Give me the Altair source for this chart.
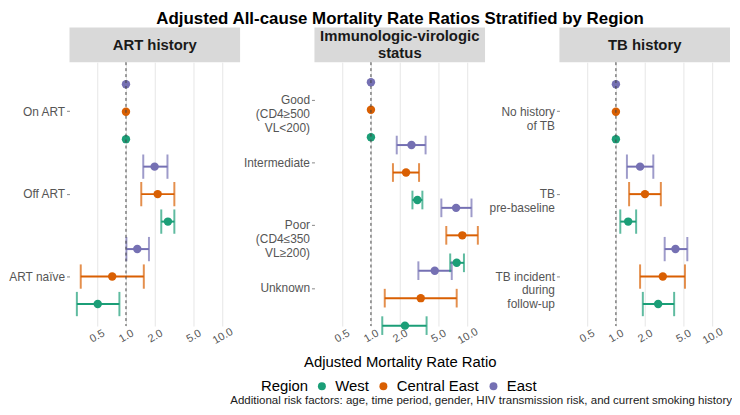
import altair as alt
import pandas as pd

# ---------------- data ----------------
regions = ["West", "Central East", "East"]
region_colors = ["#1b9e77", "#d95f02", "#7570b3"]
dodge_order = ["East", "Central East", "West"]

panel_headers = ["ART history", "Immunologic-virologic|status", "TB history"]

art_categories = ["On ART", "Off ART", "ART naïve"]
art_west_est = [1.0, 2.72, 0.51]
art_west_lo = [None, 2.32, 0.31]
art_west_hi = [None, 3.17, 0.855]
art_ce_est = [1.0, 2.13, 0.72]
art_ce_lo = [None, 1.44, 0.34]
art_ce_hi = [None, 3.17, 1.53]
art_east_est = [1.0, 1.98, 1.31]
art_east_lo = [None, 1.51, 1.01]
art_east_hi = [None, 2.69, 1.73]

imm_categories = ["Good|(CD4≥500|VL<200)", "Intermediate", "Poor|(CD4≤350|VL≥200)", "Unknown"]
imm_west_est = [1.0, 3.03, 7.73, 2.25]
imm_west_lo = [None, 2.69, 6.62, 1.31]
imm_west_hi = [None, 3.41, 9.19, 3.77]
imm_ce_est = [1.0, 2.31, 8.84, 3.28]
imm_ce_lo = [None, 1.69, 6.03, 1.39]
imm_ce_hi = [None, 3.15, 12.8, 7.73]
imm_east_est = [1.0, 2.63, 7.62, 4.58]
imm_east_lo = [None, 1.85, 5.36, 3.10]
imm_east_hi = [None, 3.68, 11.0, 6.87]

tb_categories = ["No history|of TB", "TB|pre-baseline", "TB incident|during|follow-up"]
tb_west_est = [1.0, 1.34, 2.74]
tb_west_lo = [None, 1.11, 1.90]
tb_west_hi = [None, 1.62, 4.01]
tb_ce_est = [1.0, 2.0, 3.06]
tb_ce_lo = [None, 1.37, 1.78]
tb_ce_hi = [None, 2.92, 5.19]
tb_east_est = [1.0, 1.78, 4.14]
tb_east_lo = [None, 1.30, 3.20]
tb_east_hi = [None, 2.44, 5.49]

x_tick_values = [0.5, 1, 2, 5, 10]
reference_value = [1.0]

title_text = "Adjusted All-cause Mortality Rate Ratios Stratified by Region"
x_title_text = "Adjusted Mortality Rate Ratio"
caption_text = ("Additional risk factors: age, time period, gender, HIV transmission risk, "
                "and current smoking history")


def build_df(categories, series):
    rows = []
    for region, (est, lo, hi) in zip(regions, series):
        for cat, e, l, h in zip(categories, est, lo, hi):
            rows.append({"category": cat, "region": region, "est": e, "lo": l, "hi": h})
    return pd.DataFrame(rows)


art_df = build_df(art_categories, [(art_west_est, art_west_lo, art_west_hi),
                                   (art_ce_est, art_ce_lo, art_ce_hi),
                                   (art_east_est, art_east_lo, art_east_hi)])
imm_df = build_df(imm_categories, [(imm_west_est, imm_west_lo, imm_west_hi),
                                   (imm_ce_est, imm_ce_lo, imm_ce_hi),
                                   (imm_east_est, imm_east_lo, imm_east_hi)])
tb_df = build_df(tb_categories, [(tb_west_est, tb_west_lo, tb_west_hi),
                                 (tb_ce_est, tb_ce_lo, tb_ce_hi),
                                 (tb_east_est, tb_east_lo, tb_east_hi)])

# ---------------- styling ----------------
FONT = "Liberation Sans"
W = 172
H = 266
STRIP = 35
STRIP_LINE = 17

x_scale = alt.Scale(type="log", domain=[0.26, 15.2], nice=False)

color_enc = alt.Color(
    "region:N",
    scale=alt.Scale(domain=regions, range=region_colors),
    legend=alt.Legend(
        title="Region", orient="none", legendX=193, legendY=319,
        direction="horizontal", titleOrient="left", titleBaseline="middle",
        titleFontSize=15, titleFontWeight="normal", titleColor="#000000",
        titlePadding=6, labelFontSize=15, labelColor="#000000",
        labelOffset=6, columnPadding=7, symbolType="circle", symbolSize=64,
        symbolStrokeWidth=0, symbolOpacity=1, padding=0,
    ),
)


def x_enc(field, title):
    axis_kw = dict(values=x_tick_values, format=".1f", grid=True, gridColor="#e6e6e6",
                   gridWidth=1, domain=False, ticks=False, labelAngle=330,
                   labelAlign="center", labelBaseline="middle", labelPadding=10,
                   labelFontSize=11, labelColor="#555555",
                   titleFontSize=15, titleFontWeight="normal", titleColor="#000000",
                   titlePadding=9)
    if title:
        axis = alt.Axis(title=title, **axis_kw)
    else:
        axis = alt.Axis(title=None, **axis_kw)
    return alt.X(field, scale=x_scale, axis=axis)


def panel(df, categories, header, cap_size, x_title=None, caption=False):
    y_enc = alt.Y(
        "category:N", sort=categories,
        scale=alt.Scale(paddingInner=0, paddingOuter=0.1),
        axis=alt.Axis(title=None, labelExpr="split(datum.label, '|')", grid=False,
                      domain=False, ticks=True, tickSize=3, tickColor="#888888",
                      labelPadding=2, labelFontSize=12, labelColor="#555555",
                      labelLineHeight=14),
    )
    yoff = alt.YOffset("region:N", sort=dodge_order,
                       scale=alt.Scale(paddingInner=0, paddingOuter=0))
    ci = df[df["lo"].notna()]

    n_lines = header.count("|") + 1
    strip = alt.Chart(pd.DataFrame({"label": [header]})).mark_rect(color="#d9d9d9").encode(
        x=alt.value(0), x2=alt.value(W), y=alt.value(-STRIP), y2=alt.value(0))
    strip_text = alt.Chart(pd.DataFrame({"label": [header]})).mark_text(
        font=FONT, fontSize=15, fontWeight="bold", color="#1a1a1a",
        baseline="middle", lineBreak="|", lineHeight=STRIP_LINE).encode(
        x=alt.value(W / 2),
        y=alt.value(-STRIP / 2 - (n_lines - 1) * STRIP_LINE / 2),
        text="label:N")

    bars = alt.Chart(ci).mark_rule(strokeWidth=2).encode(
        x=x_enc("lo:Q", x_title), x2="hi:Q", y=y_enc, yOffset=yoff, color=color_enc)
    cap_lo = alt.Chart(ci).mark_tick(size=cap_size, thickness=2).encode(
        x=x_enc("lo:Q", x_title), y=y_enc, yOffset=yoff, color=color_enc)
    cap_hi = alt.Chart(ci).mark_tick(size=cap_size, thickness=2).encode(
        x=x_enc("hi:Q", x_title), y=y_enc, yOffset=yoff, color=color_enc)
    points = alt.Chart(df).mark_circle(size=72, opacity=1).encode(
        x=x_enc("est:Q", x_title), y=y_enc, yOffset=yoff, color=color_enc)
    vline = alt.Chart(pd.DataFrame({"ref": reference_value})).mark_rule(
        strokeDash=[3, 3], color="#444444", strokeWidth=1).encode(
        x=x_enc("ref:Q", x_title))

    layers = [strip, strip_text, bars, cap_lo, cap_hi, points, vline]
    if caption:
        cap = alt.Chart(pd.DataFrame({"caption": [caption_text]})).mark_text(
            font=FONT, fontSize=11.6, color="#1a1a1a", align="right",
            baseline="alphabetic").encode(
            x=alt.value(W + 2), y=alt.value(H + 79), text="caption:N")
        layers.append(cap)
    return alt.layer(*layers).properties(width=W, height=H)


p1 = panel(art_df, art_categories, panel_headers[0], 24.5)
p2 = panel(imm_df, imm_categories, panel_headers[1], 18.8, x_title=x_title_text)
p3 = panel(tb_df, tb_categories, panel_headers[2], 24.5, caption=True)

chart = alt.hconcat(p1, p2, p3, spacing=75, bounds="flush").properties(
    title=alt.TitleParams(title_text, fontSize=17, fontWeight="bold", anchor="middle",
                          frame="bounds", dx=30, offset=0, color="#000000", font=FONT),
    padding={"left": 0, "top": 0, "right": 0, "bottom": 0},
    background="#ffffff",
).configure_view(stroke=None).configure_axis(
    labelFont=FONT, titleFont=FONT
).configure_legend(labelFont=FONT, titleFont=FONT).configure_text(font=FONT)

chart.save("out.html", embed_options={"renderer": "svg", "actions": False})
